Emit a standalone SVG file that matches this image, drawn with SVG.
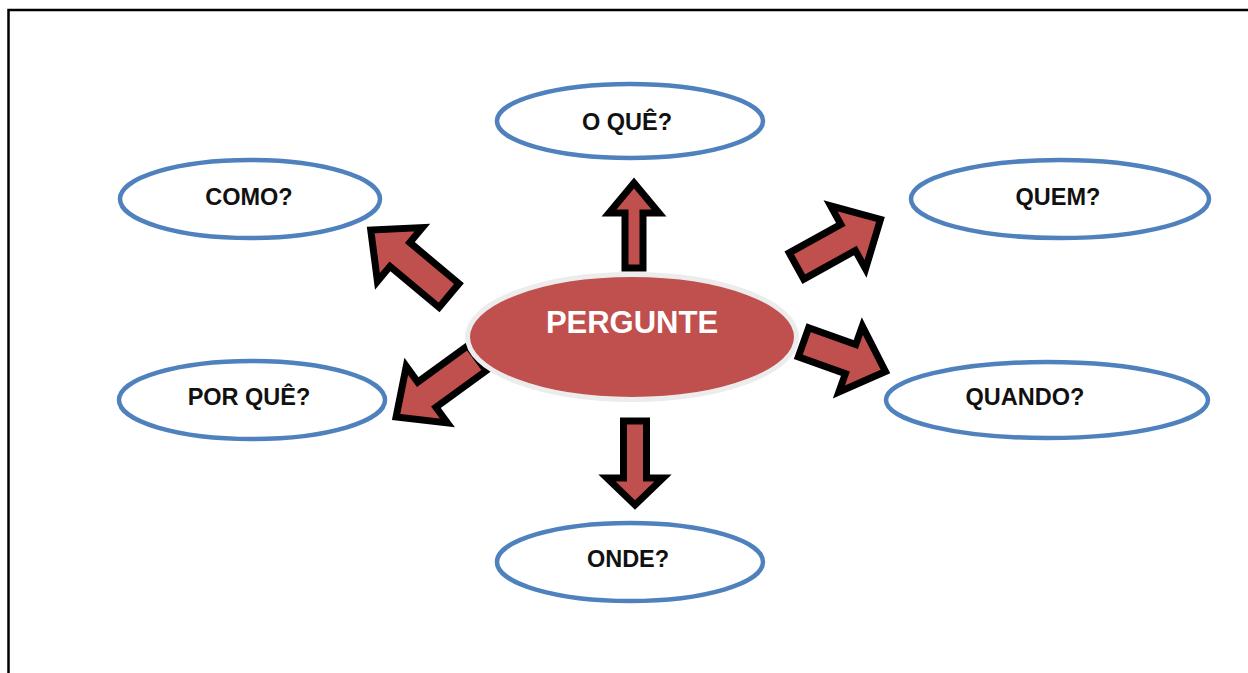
<svg xmlns="http://www.w3.org/2000/svg" width="1248" height="673" viewBox="0 0 1248 673">
<style>
.q{fill:#fff;stroke:#4f81bd;stroke-width:4.5}
.t{font-family:"Liberation Sans",Arial,sans-serif;font-weight:bold;font-size:23.5px;fill:#111;text-anchor:middle}
.a{fill:#c0504d;stroke:#000;stroke-width:7;stroke-linejoin:miter;stroke-miterlimit:10}
</style>
<rect width="1248" height="673" fill="#fff"/>
<path d="M8.5,673 V10 H1248" fill="none" stroke="#000" stroke-width="2.5"/>
<g id="connectors">
<path class="a" transform="translate(634,268) rotate(-90)" d="M0,-9 L55,-9 L55,-25 L85,0 L55,25 L55,9 L0,9 Z"/>
<path class="a" transform="translate(635,421) rotate(90)" d="M0,-11.5 L57,-11.5 L57,-28 L84,0 L57,28 L57,11.5 L0,11.5 Z"/>
<path class="a" transform="translate(449,295.5) rotate(219.9)" d="M0,-15.5 L64,-15.5 L64,-35 L102,0 L64,35 L64,15.5 L0,15.5 Z"/>
<path class="a" transform="translate(477,358.2) rotate(144)" d="M0,-15.5 L62,-15.5 L62,-35 L100,0 L62,35 L62,15.5 L0,15.5 Z"/>
<path class="a" transform="translate(796.5,266) rotate(-29)" d="M0,-15 L59,-15 L59,-36 L96,0 L59,36 L59,15 L0,15 Z"/>
<path class="a" transform="translate(803.5,342.3) rotate(19.6)" d="M0,-15.5 L50,-15.5 L50,-35 L87,0 L50,35 L50,15.5 L0,15.5 Z"/>
</g>
<g id="center">
<ellipse cx="632" cy="337" rx="164.5" ry="62.5" fill="#c0504d" stroke="#ececec" stroke-width="5"/>
<text x="632" y="333" font-family="Liberation Sans,Arial,sans-serif" font-weight="bold" font-size="31" fill="#fff" text-anchor="middle">PERGUNTE</text>
</g>
<g id="oque"><ellipse class="q" cx="630" cy="121" rx="133" ry="37"/><text class="t" x="627" y="130">O QUÊ?</text></g>
<g id="como"><ellipse class="q" cx="250" cy="199" rx="130" ry="39"/><text class="t" x="249" y="205">COMO?</text></g>
<g id="quem"><ellipse class="q" cx="1060" cy="199" rx="149" ry="39"/><text class="t" x="1058" y="205">QUEM?</text></g>
<g id="porque"><ellipse class="q" cx="252" cy="400" rx="133" ry="39"/><text class="t" x="249" y="405">POR QUÊ?</text></g>
<g id="quando"><ellipse class="q" cx="1047" cy="400" rx="161" ry="38"/><text class="t" x="1025" y="405">QUANDO?</text></g>
<g id="onde"><ellipse class="q" cx="630" cy="562" rx="133" ry="39"/><text class="t" x="628" y="567">ONDE?</text></g>
</svg>
